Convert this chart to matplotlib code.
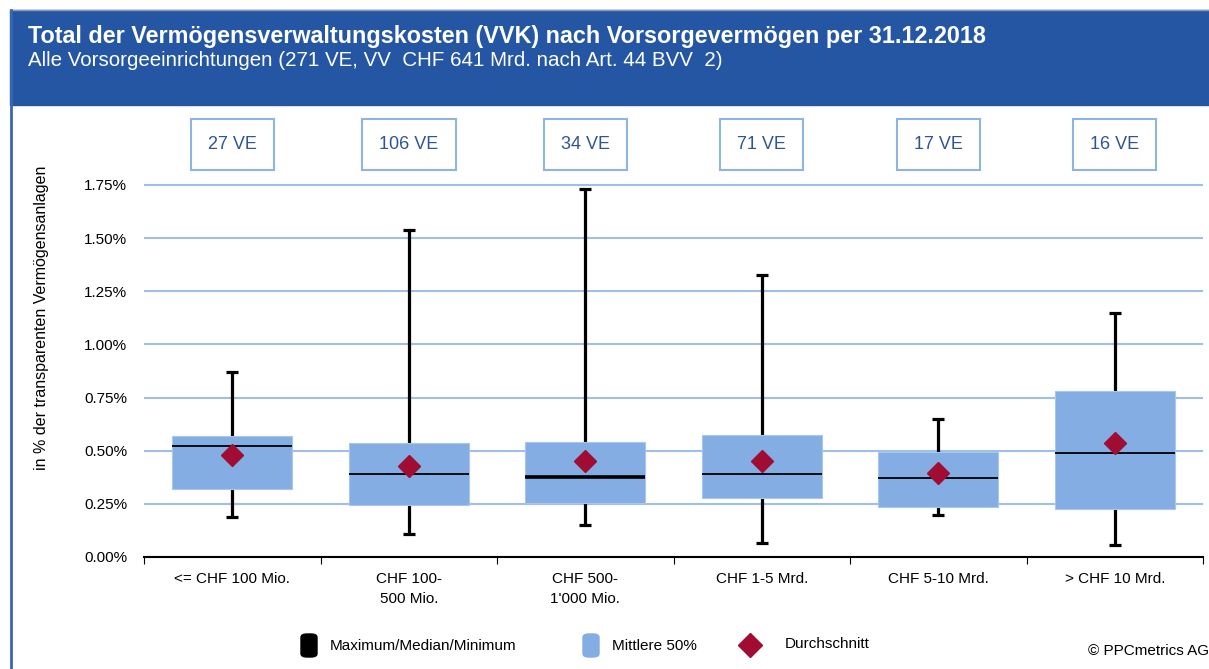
import matplotlib.pyplot as plt
from matplotlib.patches import Rectangle, FancyBboxPatch
from matplotlib.lines import Line2D

plt.rcParams['font.family'] = ['Liberation Sans', 'DejaVu Sans']

# data (in %)
categories = ["<= CHF 100 Mio.", "CHF 100-\n500 Mio.", "CHF 500-\n1'000 Mio.",
              "CHF 1-5 Mrd.", "CHF 5-10 Mrd.", "> CHF 10 Mrd."]
counts = ["27 VE", "106 VE", "34 VE", "71 VE", "17 VE", "16 VE"]
maximum = [0.870, 1.538, 1.731, 1.327, 0.649, 1.150]
minimum = [0.188, 0.108, 0.150, 0.066, 0.198, 0.056]
q3 = [0.567, 0.535, 0.542, 0.576, 0.494, 0.783]
q1 = [0.318, 0.245, 0.254, 0.278, 0.235, 0.228]
median = [0.522, 0.390, 0.376, 0.390, 0.372, 0.487]
mean = [0.480, 0.428, 0.452, 0.452, 0.395, 0.536]

BOX_BLUE = '#84ADE3'
RED = '#A00C32'
HEAD_BLUE = '#2456A4'
GRID = '#9DBFE8'

W, H = 1209, 669
fig = plt.figure(figsize=(W / 100, H / 100), dpi=100)

# header band + frame line
fig.patches.append(Rectangle((10 / W, 1 - 105 / H), 1 - 10 / W, 95 / H,
                             transform=fig.transFigure, color=HEAD_BLUE, zorder=0))
fig.lines.append(Line2D([10 / W, 1], [1 - 10 / H, 1 - 10 / H], transform=fig.transFigure,
                        color='#8A9BB8', lw=1))
fig.lines.append(Line2D([11 / W, 11 / W], [0, 1 - 10 / H], transform=fig.transFigure,
                        color='#3A66B0', lw=2))
fig.text(28 / W, 1 - 37 / H, "Total der Vermögensverwaltungskosten (VVK) nach Vorsorgevermögen per 31.12.2018",
         color='white', fontsize=16.8, fontweight='bold', va='center')
fig.text(28 / W, 1 - 61 / H, "Alle Vorsorgeeinrichtungen (271 VE, VV  CHF 641 Mrd. nach Art. 44 BVV  2)",
         color='white', fontsize=14.8, va='center')

y_top = 1.76
px_per = (557 - 185) / 1.75
ax = fig.add_axes([144 / W, 1 - 557 / H, (1203 - 144) / W, y_top * px_per / H])
x = list(range(len(categories)))
bw = 0.68

ax.vlines(x, minimum, maximum, color='black', lw=2.3, zorder=2)
ax.hlines(maximum, [i - 0.035 for i in x], [i + 0.035 for i in x], color='black', lw=2.3, zorder=2)
ax.hlines(minimum, [i - 0.035 for i in x], [i + 0.035 for i in x], color='black', lw=2.3, zorder=2)
ax.bar(x, [a - b for a, b in zip(q3, q1)], bottom=q1, width=bw, color=BOX_BLUE,
       edgecolor='#A9C6EC', lw=0.8, zorder=3)
med_lw = [1.3, 1.3, 2.6, 1.3, 1.3, 1.3]
for i in x:
    ax.hlines(median[i], i - bw / 2, i + bw / 2, color='black', lw=med_lw[i], zorder=4)
ax.plot(x, mean, linestyle='none', marker='D', color=RED, markersize=11.5, zorder=5)

ax.set_xlim(-0.5, 5.5)
ax.set_ylim(0, y_top)
ax.set_yticks([0.25 * k for k in range(8)])
ax.set_yticklabels([f"{0.25 * k:.2f}%" for k in range(8)], fontsize=11)
ax.yaxis.grid(True, color=GRID, lw=1.5)
ax.set_axisbelow(True)
ax.tick_params(axis='y', length=0, pad=12)
ax.set_xticks([i - 0.5 for i in range(7)])
ax.set_xticklabels([])
ax.tick_params(axis='x', which='major', length=5, direction='out', color='black')
ax.set_xticks(x, minor=True)
ax.set_xticklabels(categories, minor=True, fontsize=11, linespacing=1.55)
ax.tick_params(axis='x', which='minor', length=0, pad=11)
for s in ['top', 'right', 'left']:
    ax.spines[s].set_visible(False)
ax.spines['bottom'].set_linewidth(1.5)

# count boxes above plot
for i in x:
    ax.annotate(counts[i], (i, 1.75), xycoords='data',
                xytext=(0, 29), textcoords='offset points', ha='center', va='center',
                fontsize=13, color='#2F5597',
                bbox=dict(boxstyle='square,pad=0.95', fc='white', ec='#8EB4E3', lw=1.5))

fig.text(42 / W, 1 - 318 / H, "in % der transparenten Vermögensanlagen", rotation=90,
         fontsize=11.5, ha='center', va='center')

# legend
def legend_square(xc, color):
    fig.patches.append(FancyBboxPatch(((xc - 8) / W, 1 - 657 / H), 16 / W, 23 / H,
                                      boxstyle='round,pad=0,rounding_size=0.005',
                                      transform=fig.transFigure, color=color))

legend_square(309, 'black')
fig.text(330 / W, 1 - 646 / H, "Maximum/Median/Minimum", fontsize=11, va='center')
legend_square(591, BOX_BLUE)
fig.text(612 / W, 1 - 646 / H, "Mittlere 50%", fontsize=11, va='center')
fig.lines.append(Line2D([750 / W], [1 - 645 / H], transform=fig.transFigure, marker='D',
                        color=RED, markersize=12))
fig.text(785 / W, 1 - 644 / H, "Durchschnitt", fontsize=11, va='center')
fig.text(1209 / W, 1 - 651 / H, "© PPCmetrics AG", fontsize=11, va='center', ha='right')

fig.savefig('out.png', dpi=100)
